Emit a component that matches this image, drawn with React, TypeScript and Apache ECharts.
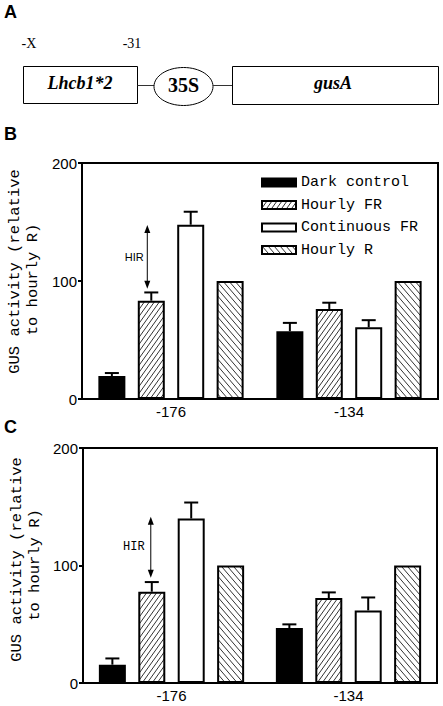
import React, { useEffect, useRef } from 'react';
import * as echarts from 'echarts';

// ---------- data ----------
const categories = ['-176', '-134'];
const seriesNames = ['Dark control', 'Hourly FR', 'Continuous FR', 'Hourly R'];

// Panel B
const bDark = [19.5, 57.5];
const bHourlyFR = [83.3, 76.3];
const bContinuousFR = [147.7, 60.8];
const bHourlyR = [100, 100];
const bDarkErr = [2.5, 7];
const bHourlyFRErr = [7, 5.3];
const bContinuousFRErr = [11, 6];
const bHirArrow = [147.5, 93.5];

// Panel C
const cDark = [15.6, 46.8];
const cHourlyFR = [77.7, 72.3];
const cContinuousFR = [140, 61.8];
const cHourlyR = [100, 100];
const cDarkErr = [5.3, 3.1];
const cHourlyFRErr = [8.2, 4.8];
const cContinuousFRErr = [13.6, 11];
const cHirArrow = [141.5, 89.5];

const yMin = 0;
const yMax = 200;
const yInterval = 100;
const yNameLines = ['GUS activity (relative', 'to hourly R)'];
const hirLabel = 'HIR';

// ---------- style constants ----------
const BAR_W = 27;
const BAR_GAP = 0.46;
const STEP = BAR_W * (1 + BAR_GAP);
const MONO = '"Liberation Mono", "DejaVu Sans Mono", monospace';
const SANS = '"Liberation Sans", Arial, sans-serif';
const SERIF = '"Liberation Serif", "Times New Roman", serif';

function hatchCanvas(a: number, b: number, dir: number) {
  const c = document.createElement('canvas');
  c.width = a;
  c.height = b;
  const ctx = c.getContext('2d')!;
  ctx.fillStyle = '#fff';
  ctx.fillRect(0, 0, a, b);
  ctx.strokeStyle = '#333';
  ctx.lineWidth = 1;
  ctx.beginPath();
  for (let k = -1; k <= 1; k++) {
    if (dir === 1) {
      ctx.moveTo(k * a, b);
      ctx.lineTo(k * a + a, 0);
    } else {
      ctx.moveTo(k * a, 0);
      ctx.lineTo(k * a + a, b);
    }
  }
  ctx.stroke();
  return c;
}

export default function App() {
  const ref = useRef<HTMLDivElement>(null);

  useEffect(() => {
    if (!ref.current) return;
    const chart = echarts.init(ref.current, null, { renderer: 'svg' });

    const fwd = hatchCanvas(5, 7, 1);
    const back = hatchCanvas(6, 7, -1);
    const fwdPattern: any = { image: fwd, repeat: 'repeat', imageWidth: 5, imageHeight: 7 };
    const backPattern: any = { image: back, repeat: 'repeat', imageWidth: 6, imageHeight: 7 };
    const fills: any[] = ['#000', fwdPattern, '#fff', backPattern];

    const offset = (i: number) => (i - 1.5) * STEP;

    function panelSeries(
      gi: number,
      vals: number[][],
      errs: number[][],
      arrow: number[],
      hir: { fontFamily: string; fontSize: number; dx: number; ax: number }
    ) {
      const out: any[] = [];
      vals.forEach((v, i) => {
        out.push({
          type: 'bar',
          name: seriesNames[i],
          xAxisIndex: gi,
          yAxisIndex: gi,
          data: v,
          barWidth: BAR_W,
          barGap: BAR_GAP * 100 + '%',
          itemStyle: { color: fills[i], borderColor: '#000', borderWidth: 2 },
        });
      });
      const errData: number[][] = [];
      errs.forEach((e, i) => {
        e.forEach((ev, ci) => {
          if (ev > 0) errData.push([ci, vals[i][ci], ev, i]);
        });
      });
      out.push({
        type: 'custom',
        xAxisIndex: gi,
        yAxisIndex: gi,
        data: errData,
        encode: { x: 0, y: 1 },
        z: 3,
        renderItem: (params: any, api: any) => {
          const base = api.coord([api.value(0), api.value(1)]);
          const top = api.coord([api.value(0), api.value(1) + api.value(2)]);
          const x = base[0] + offset(api.value(3));
          return {
            type: 'group',
            children: [
              { type: 'line', shape: { x1: x, y1: base[1], x2: x, y2: top[1] }, style: { stroke: '#000', lineWidth: 2 } },
              { type: 'line', shape: { x1: x - 7, y1: top[1], x2: x + 7, y2: top[1] }, style: { stroke: '#000', lineWidth: 2 } },
            ],
          };
        },
      });
      out.push({
        type: 'custom',
        xAxisIndex: gi,
        yAxisIndex: gi,
        data: [[0, arrow[0], arrow[1], 1]],
        encode: { x: 0, y: 1 },
        z: 4,
        renderItem: (params: any, api: any) => {
          const p0 = api.coord([api.value(0), api.value(1)]);
          const p1 = api.coord([api.value(0), api.value(2)]);
          const x = p0[0] + offset(api.value(3)) + hir.ax;
          const yT = p0[1];
          const yB = p1[1];
          return {
            type: 'group',
            children: [
              { type: 'line', shape: { x1: x, y1: yT + 6, x2: x, y2: yB - 6 }, style: { stroke: '#000', lineWidth: 1 } },
              { type: 'polygon', shape: { points: [[x, yT], [x - 3, yT + 8], [x + 3, yT + 8]] }, style: { fill: '#000' } },
              { type: 'polygon', shape: { points: [[x, yB], [x - 3, yB - 8], [x + 3, yB - 8]] }, style: { fill: '#000' } },
              {
                type: 'text',
                x: x - hir.dx,
                y: (yT + yB) / 2,
                style: {
                  text: hirLabel,
                  align: 'center',
                  verticalAlign: 'middle',
                  fontFamily: hir.fontFamily,
                  fontSize: hir.fontSize,
                  fill: '#000',
                },
              },
            ],
          };
        },
      });
      return out;
    }

    const yAxisCfg = (gi: number) => ({
      type: 'value',
      gridIndex: gi,
      min: yMin,
      max: yMax,
      interval: yInterval,
      axisLine: { show: true, lineStyle: { color: '#000', width: 2 } },
      axisTick: { show: true, length: 4, lineStyle: { color: '#000', width: 2 } },
      axisLabel: { fontFamily: SANS, fontSize: 15, color: '#000', margin: 5 },
      splitLine: { show: false },
    });
    const xAxisCfg = (gi: number) => ({
      type: 'category',
      gridIndex: gi,
      data: categories,
      axisLine: { show: true, lineStyle: { color: '#000', width: 2 } },
      axisTick: { show: false },
      axisLabel: { fontFamily: SANS, fontSize: 15, color: '#000', margin: 5 },
    });

    const nameText = (text: string, x: number, y: number) => ({
      type: 'text',
      x,
      y,
      rotation: Math.PI / 2,
      style: { text, font: `15.5px ${MONO}`, fill: '#000', align: 'center', verticalAlign: 'middle' },
    });

    const option: any = {
      animation: false,
      backgroundColor: '#fff',
      grid: [
        { left: 82, top: 163, width: 356, height: 236, show: true, borderColor: '#000', borderWidth: 2, backgroundColor: 'transparent' },
        { left: 83, top: 448, width: 354, height: 235, show: true, borderColor: '#000', borderWidth: 2, backgroundColor: 'transparent' },
      ],
      xAxis: [xAxisCfg(0), xAxisCfg(1)],
      yAxis: [yAxisCfg(0), yAxisCfg(1)],
      legend: {
        data: seriesNames,
        orient: 'vertical',
        left: 261,
        top: 175,
        padding: 0,
        itemWidth: 34,
        itemHeight: 8,
        itemGap: 7.5,
        icon: 'rect',
        selectedMode: false,
        textStyle: { fontFamily: MONO, fontSize: 15, color: '#000' },
      },
      series: [
        ...panelSeries(
          0,
          [bDark, bHourlyFR, bContinuousFR, bHourlyR],
          [bDarkErr, bHourlyFRErr, bContinuousFRErr, [0, 0]],
          bHirArrow,
          { fontFamily: SANS, fontSize: 11, dx: 13, ax: -4 }
        ),
        ...panelSeries(
          1,
          [cDark, cHourlyFR, cContinuousFR, cHourlyR],
          [cDarkErr, cHourlyFRErr, cContinuousFRErr, [0, 0]],
          cHirArrow,
          { fontFamily: MONO, fontSize: 12, dx: 17, ax: -1 }
        ),
      ],
      graphic: [
        { type: 'text', left: 4, top: 3, style: { text: 'A', font: `bold 18px ${SANS}`, fill: '#000' } },
        { type: 'text', left: 4, top: 125, style: { text: 'B', font: `bold 18px ${SANS}`, fill: '#000' } },
        { type: 'text', left: 4, top: 418, style: { text: 'C', font: `bold 18px ${SANS}`, fill: '#000' } },
        nameText(yNameLines[0], 15, 271.5),
        nameText(yNameLines[1], 33, 279.5),
        nameText(yNameLines[0], 17, 559.5),
        nameText(yNameLines[1], 35, 565),
        { type: 'text', x: 29, y: 43, style: { text: '-X', font: `14px ${SERIF}`, fill: '#000', align: 'center', verticalAlign: 'middle' } },
        { type: 'text', x: 132, y: 43, style: { text: '-31', font: `14px ${SERIF}`, fill: '#000', align: 'center', verticalAlign: 'middle' } },
        { type: 'rect', shape: { x: 23.5, y: 66.5, width: 114, height: 37 }, style: { fill: '#fff', stroke: '#000', lineWidth: 1 } },
        { type: 'text', x: 80, y: 83, style: { text: 'Lhcb1*2', font: `italic bold 18px ${SERIF}`, fill: '#000', align: 'center', verticalAlign: 'middle' } },
        { type: 'line', shape: { x1: 137.5, y1: 85.5, x2: 154, y2: 85.5 }, style: { stroke: '#333', lineWidth: 1 } },
        { type: 'ellipse', shape: { cx: 183.5, cy: 86.5, rx: 29.5, ry: 19 }, style: { fill: '#fff', stroke: '#000', lineWidth: 1 } },
        { type: 'text', x: 183.5, y: 85, style: { text: '35S', font: `bold 20px ${SERIF}`, fill: '#000', align: 'center', verticalAlign: 'middle' } },
        { type: 'line', shape: { x1: 213, y1: 85.5, x2: 232, y2: 85.5 }, style: { stroke: '#333', lineWidth: 1 } },
        { type: 'rect', shape: { x: 232.5, y: 66.5, width: 206, height: 38 }, style: { fill: '#fff', stroke: '#000', lineWidth: 1 } },
        { type: 'text', x: 333, y: 83, style: { text: 'gusA', font: `italic bold 18px ${SERIF}`, fill: '#000', align: 'center', verticalAlign: 'middle' } },
      ],
    };

    chart.setOption(option);
    return () => chart.dispose();
  }, []);

  return (
    <div
      ref={ref}
      style={{ position: 'absolute', left: 0, top: 0, width: 443, height: 706, background: '#fff' }}
    />
  );
}
